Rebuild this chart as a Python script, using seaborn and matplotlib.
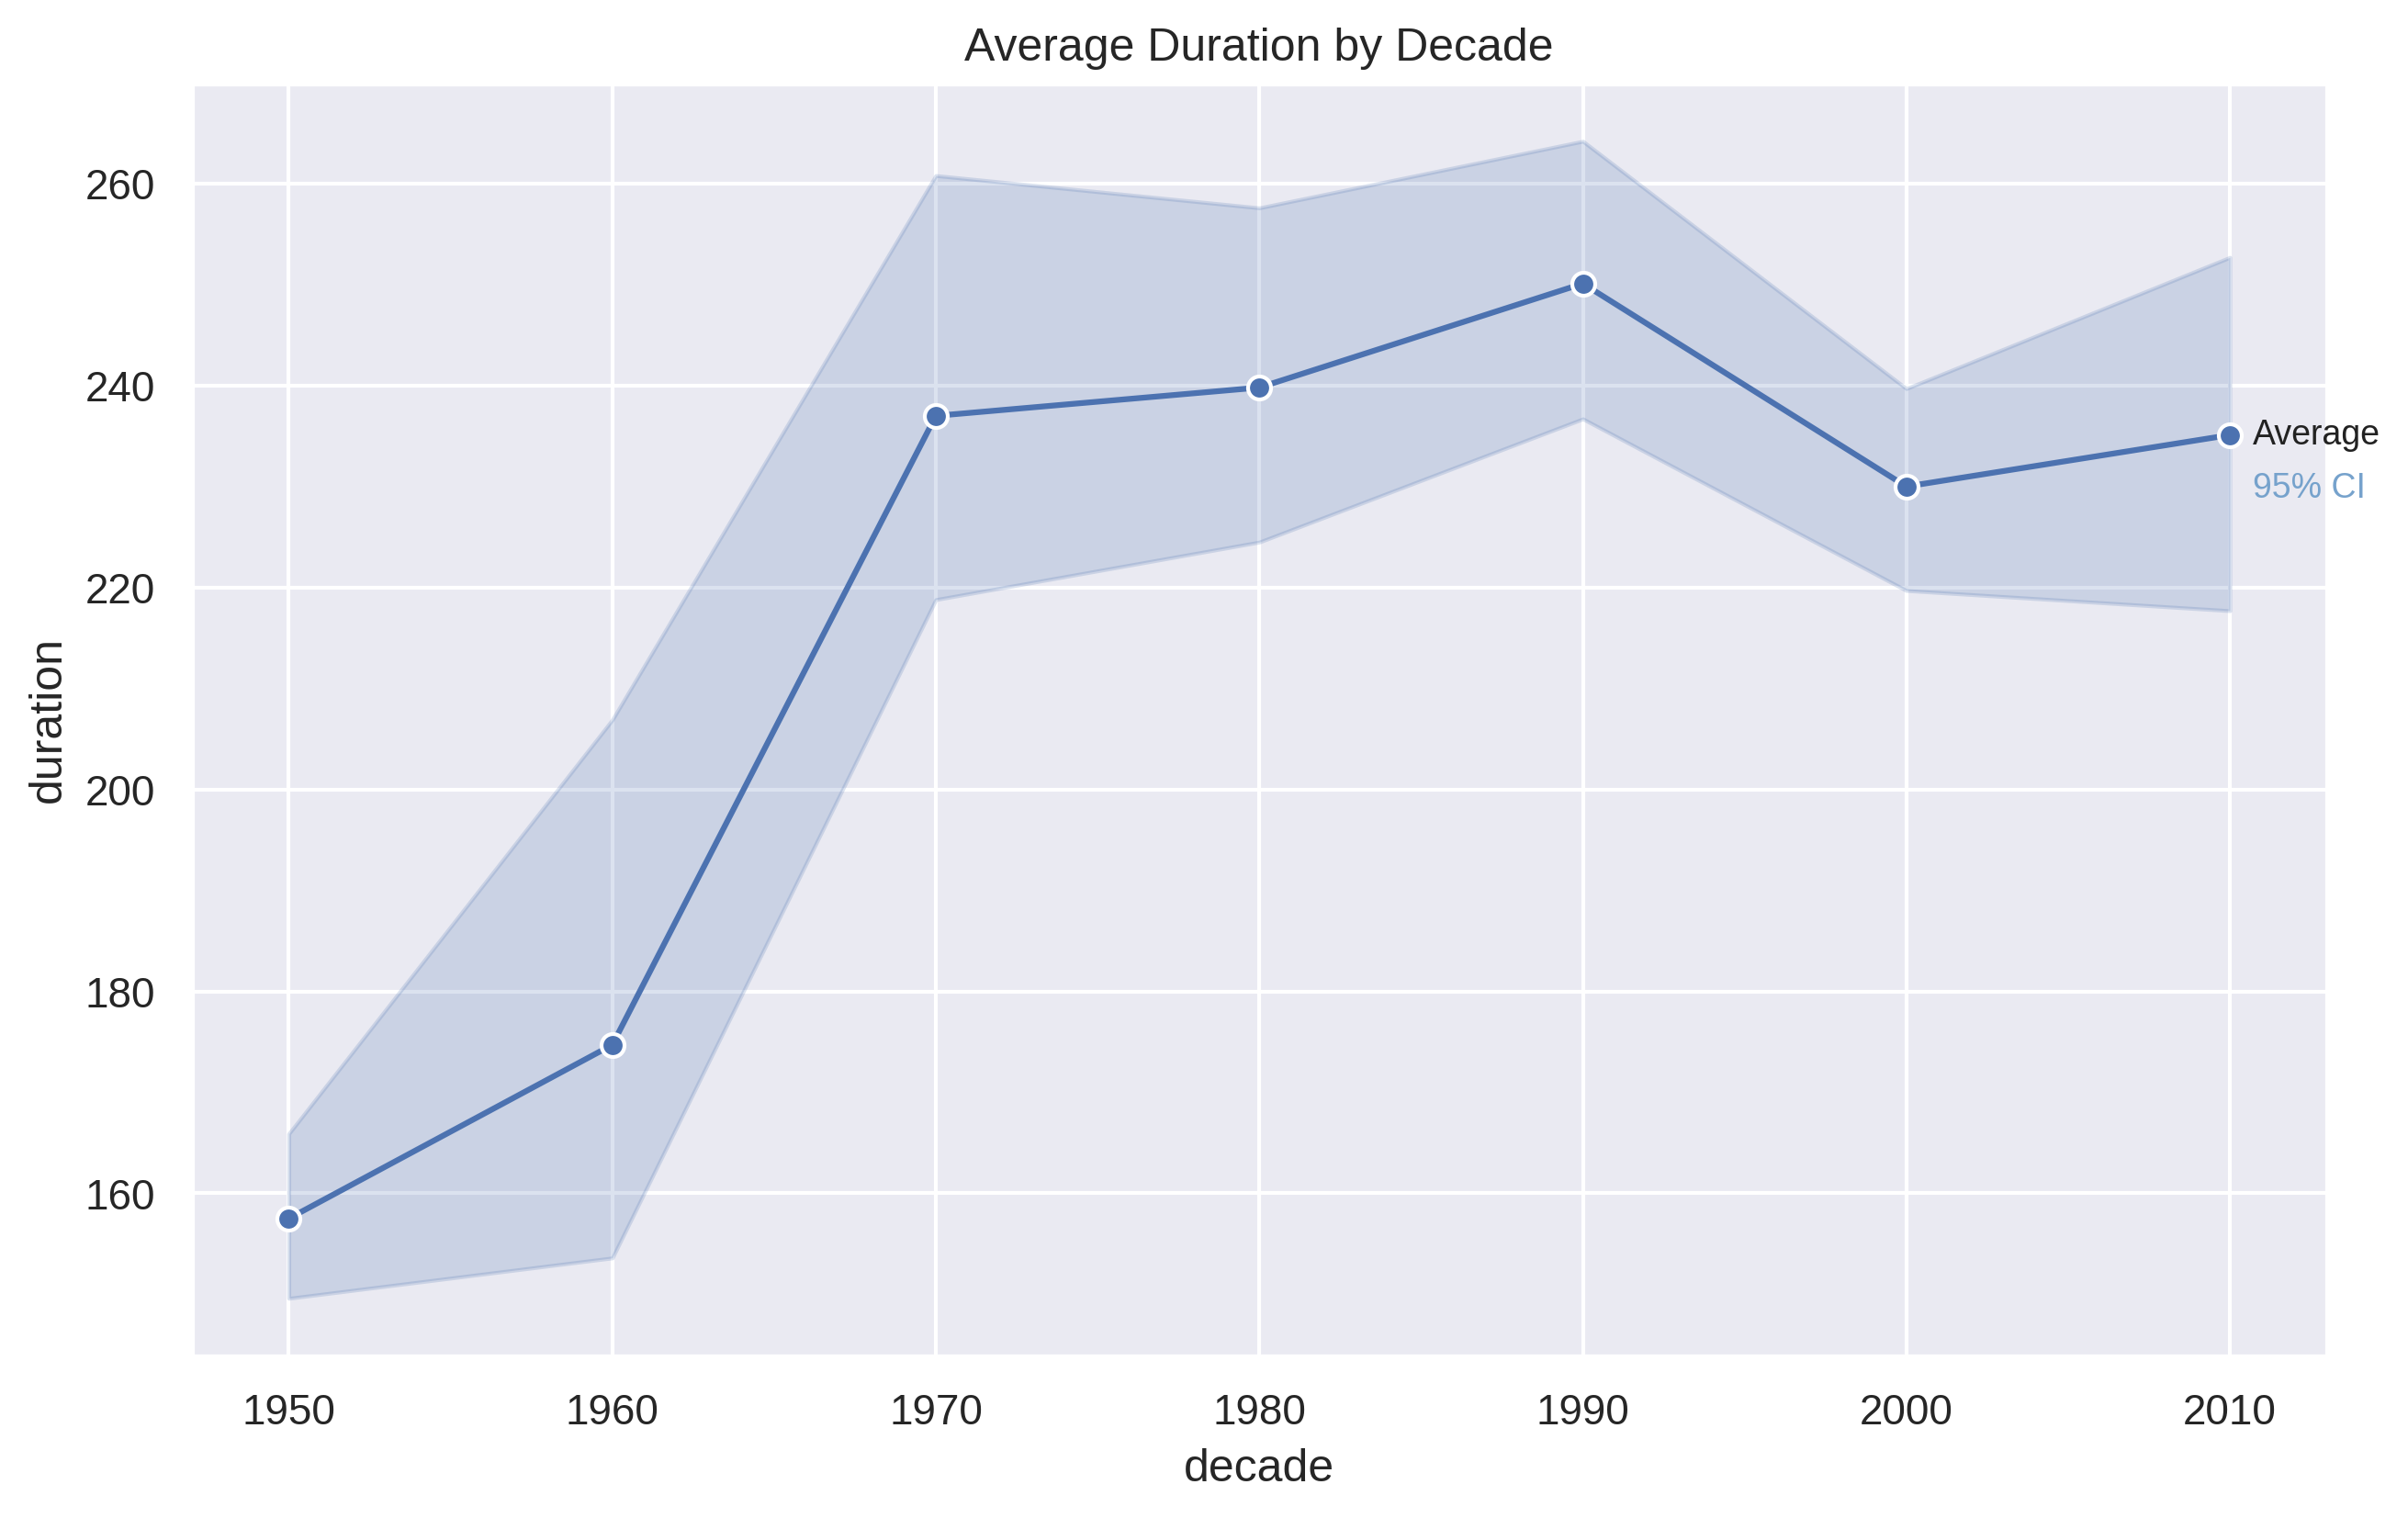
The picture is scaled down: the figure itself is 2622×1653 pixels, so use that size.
import pandas as pd
import seaborn as sns
import matplotlib.pyplot as plt

# Values
decades = [1950, 1960, 1970, 1980, 1990, 2000, 2010]
avg_duration = [157.5, 174.7, 237.0, 239.8, 250.1, 230.0, 235.1]
ci_low = [149.6, 153.6, 218.8, 224.5, 236.7, 219.7, 217.7]
ci_high = [165.9, 206.9, 260.8, 257.6, 264.2, 239.7, 252.7]

df = pd.DataFrame({"decade": decades, "duration": avg_duration})

sns.set_theme(style="darkgrid")
plt.rcParams['font.family'] = ['Liberation Sans', 'DejaVu Sans']

fig, ax = plt.subplots(figsize=(10, 6))

color = sns.color_palette()[0]
sns.lineplot(data=df, x="decade", y="duration", marker="o", color=color,
             markeredgecolor="white", markeredgewidth=1, ax=ax)
ax.fill_between(decades, ci_low, ci_high, color=color, alpha=0.2, linewidth=1)

# Inline labels at the last point
ax.annotate("Average", xy=(decades[-1], avg_duration[-1]), xytext=(6, 0),
            textcoords="offset points", va="center", ha="left",
            fontsize=9, color="#222222", annotation_clip=False)
ax.annotate("95% CI", xy=(decades[-1], avg_duration[-1]), xytext=(6, -14),
            textcoords="offset points", va="center", ha="left",
            fontsize=9, color="#76a2cc", annotation_clip=False)

ax.set_title("Average Duration by Decade")
ax.set_xlabel("decade")
ax.set_ylabel("duration")

fig.savefig("out.png", dpi=300, bbox_inches="tight")
